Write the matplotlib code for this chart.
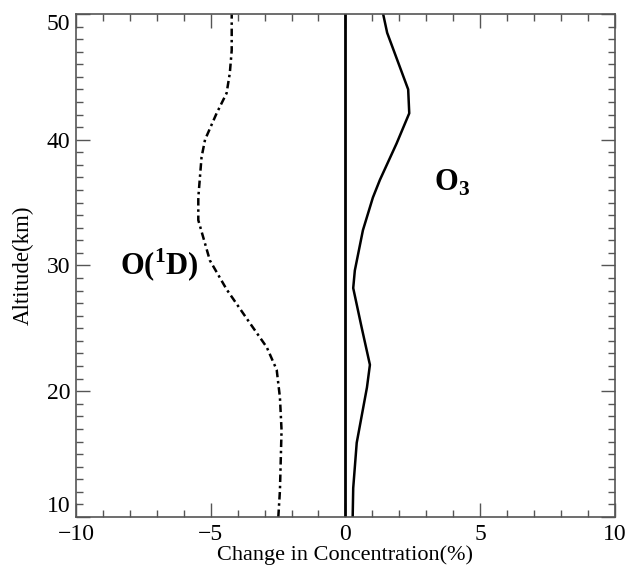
import matplotlib
matplotlib.use("Agg")
import matplotlib.pyplot as plt
from matplotlib.ticker import MultipleLocator

plt.rcParams['font.family'] = ['Liberation Serif', 'DejaVu Serif']
plt.rcParams['mathtext.fontset'] = 'custom'
plt.rcParams['mathtext.rm'] = 'Liberation Serif'
plt.rcParams['mathtext.bf'] = 'Liberation Serif:bold'

# O3 change profile (%)
o3_alt = [10, 12.3, 15.9, 20.3, 22.1, 25.1, 28.2, 29.6, 32.8, 35.4, 36.8, 39.7, 42.1, 44.0, 48.5, 50]
o3_chg = [0.27, 0.29, 0.42, 0.8, 0.91, 0.6, 0.29, 0.35, 0.65, 1.02, 1.28, 1.9, 2.37, 2.33, 1.55, 1.4]

# O(1D) change profile (%)
o1d_alt = [10, 12.1, 16.9, 19.5, 21.7, 23.5, 25.4, 28.1, 30.4, 33.6, 35.4, 38.6, 40.0, 42.1, 43.7, 45.3, 47.1, 50]
o1d_chg = [-2.49, -2.43, -2.37, -2.43, -2.55, -2.92, -3.54, -4.41, -5.03, -5.46, -5.46, -5.34, -5.21, -4.78, -4.41, -4.29, -4.22, -4.22]

fig = plt.figure(figsize=(6.28, 5.71), dpi=100)
ax = fig.add_axes([0.121, 0.0946, 0.858, 0.881])

ax.axvline(0, color='black', lw=2)
ax.plot(o3_chg, o3_alt, color='black', lw=1.8)
ax.plot(o1d_chg, o1d_alt, color='black', lw=1.8, linestyle=(0, (3, 1.5, 1, 1.5)))

ax.set_xlim(-10, 10)
ax.set_ylim(10, 50)
ax.xaxis.set_major_locator(MultipleLocator(5))
ax.xaxis.set_minor_locator(MultipleLocator(1))
ax.yaxis.set_major_locator(MultipleLocator(10))
ax.yaxis.set_minor_locator(MultipleLocator(1))
ax.tick_params(which='both', direction='in', top=True, right=True, labelsize=17, color='#555555')
ax.tick_params(which='major', length=10, width=1)
ax.tick_params(which='minor', length=5, width=1)
ax.tick_params(axis='x', pad=5)
ax.tick_params(axis='y', pad=4)
for s in ax.spines.values():
    s.set_color('#555555')
    s.set_linewidth(1.2)

ax.set_xlabel('Change in Concentration(%)', fontsize=16, labelpad=0)
ax.set_ylabel('Altitude(km)', fontsize=16.5, labelpad=9)

# keep the corner labels apart like the original
fig.canvas.draw()
for lab in ax.get_yticklabels():
    if lab.get_text() == '10':
        lab.set_va('bottom')
    elif lab.get_text() == '50':
        lab.set_va('top')

ax.text(-6.9, 30.0, r'O($^{\mathbf{1}}$D)', fontsize=22, fontweight='bold', ha='center', va='center')
ax.text(3.95, 36.6, r'O$_{\mathbf{3}}$', fontsize=22, fontweight='bold', ha='center', va='center')

fig.savefig('out.png', dpi=100)
